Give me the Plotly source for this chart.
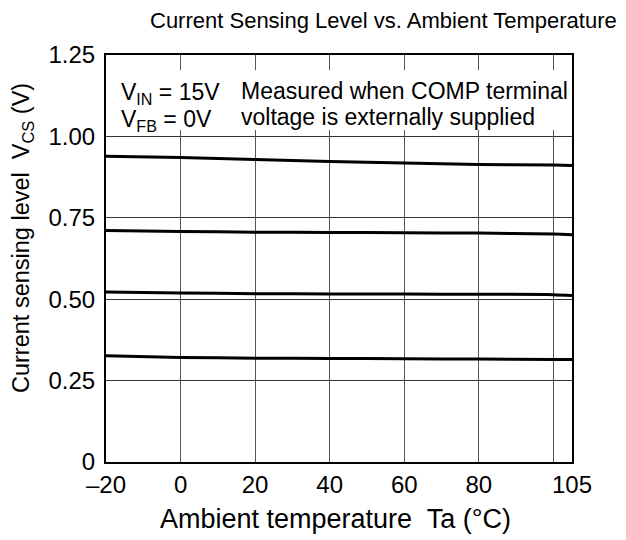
import plotly.graph_objects as go

temps = [-20, 0, 20, 40, 60, 80, 100, 105]
vcs_1 = [0.939, 0.935, 0.929, 0.923, 0.918, 0.914, 0.912, 0.911]
vcs_2 = [0.711, 0.708, 0.706, 0.705, 0.704, 0.703, 0.700, 0.698]
vcs_3 = [0.522, 0.519, 0.517, 0.516, 0.516, 0.515, 0.514, 0.511]
vcs_4 = [0.326, 0.321, 0.319, 0.318, 0.317, 0.316, 0.315, 0.315]

x_tickvals = [-20, 0, 20, 40, 60, 80, 105]
x_ticktext = ["\u201320", "0", "20", "40", "60", "80", "105"]
x_gridvals = [0, 20, 40, 60, 80, 100]
y_tickvals = [0, 0.25, 0.5, 0.75, 1.0, 1.25]
y_ticktext = ["0", "0.25", "0.50", "0.75", "1.00", "1.25"]

FONT = "Liberation Sans, Arial, sans-serif"
W, H = 626, 540
L, R, T, B = 106, 54, 55, 78
PW, PH = W - L - R, H - T - B


def px(xp):
    return (xp - L) / PW


def py(yp):
    return (H - B - yp) / PH


fig = go.Figure()
for s in [vcs_1, vcs_2, vcs_3, vcs_4]:
    fig.add_trace(go.Scatter(x=temps, y=s, mode="lines",
                             line=dict(color="black", width=3, shape="spline",
                                       smoothing=0.8),
                             showlegend=False, hoverinfo="skip"))
# invisible trace for the grid axis
fig.add_trace(go.Scatter(x=[-20, 105], y=[0, 0], xaxis="x2", mode="lines",
                         line=dict(width=0), showlegend=False, hoverinfo="skip"))


def ann(text, x, y, size, xanchor="center", **kw):
    return dict(text=text, x=px(x), y=py(y), xref="paper", yref="paper",
                xanchor=xanchor, yanchor="middle", showarrow=False,
                font=dict(size=size), **kw)


fig.update_layout(
    width=W, height=H,
    margin=dict(l=L, r=R, t=T, b=B),
    paper_bgcolor="white", plot_bgcolor="white",
    font=dict(family=FONT, size=24, color="black"),
    xaxis=dict(range=[-20, 105], tickvals=x_tickvals, ticktext=x_ticktext,
               showgrid=False, zeroline=False, showline=True, linecolor="black",
               linewidth=2, mirror=True, ticks="", tickfont=dict(size=24)),
    xaxis2=dict(range=[-20, 105], overlaying="x", tickvals=x_gridvals,
                showticklabels=False, showgrid=True, gridcolor="#555555",
                gridwidth=1, zeroline=False, showline=False, ticks=""),
    yaxis=dict(range=[0, 1.25], tickvals=y_tickvals, ticktext=y_ticktext,
               showgrid=True, gridcolor="#333333", gridwidth=1, zeroline=False,
               showline=True, linecolor="black", linewidth=2, mirror=True,
               ticks="", tickfont=dict(size=24), ticklabelstandoff=4),
    shapes=[dict(type="rect", xref="x", yref="y", x0=-20, x1=105, y0=1.02, y1=1.203,
                 fillcolor="white", line=dict(width=0), layer="between")],
    annotations=[
        ann("Current Sensing Level vs. Ambient Temperature", 383, 20, 22),
        ann("Ambient temperature  Ta (\u00b0C)", 335, 519, 27),
        ann("Current sensing level  V<sub>CS</sub> (V)", 22, 238, 23.5, textangle=-90),
        ann("V<sub>IN</sub> = 15V", 119, 93, 23, xanchor="left"),
        ann("V<sub>FB</sub> = 0V", 119, 120, 23, xanchor="left"),
        ann("Measured when COMP terminal", 239, 91, 23, xanchor="left"),
        ann("voltage is externally supplied", 239, 117, 23, xanchor="left"),
    ],
)

fig.write_html("out.html", config={"displayModeBar": False},
               post_script="document.body.style.margin='0px';")
